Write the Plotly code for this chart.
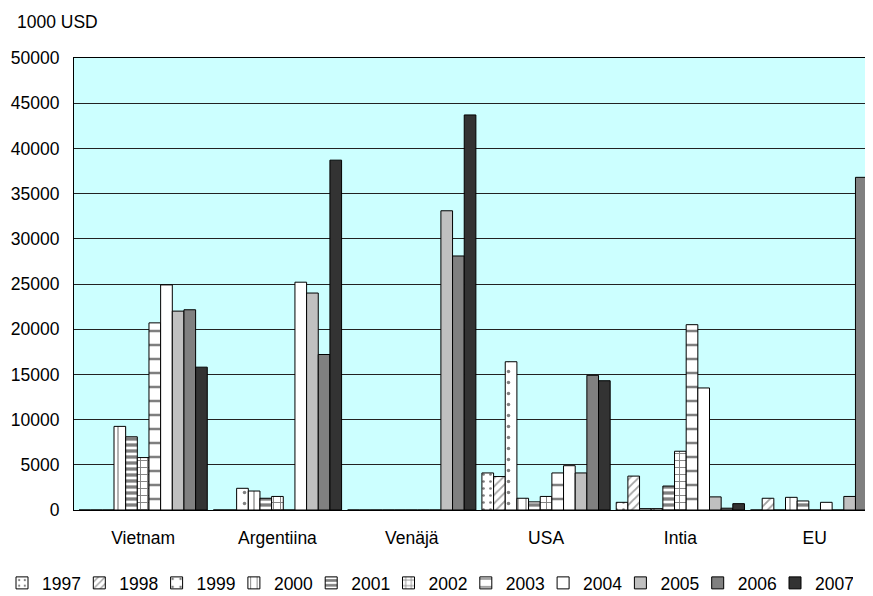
import plotly.graph_objects as go

categories = ["Vietnam", "Argentiina", "Venäjä", "USA", "Intia", "EU"]
years = ["1997", "1998", "1999", "2000", "2001", "2002", "2003", "2004", "2005", "2006", "2007"]

v1997 = [0, 0, 0, 4100, 850, 0]
v1998 = [0, 0, 0, 3700, 3750, 1300]
v1999 = [0, 2400, 0, 16400, 150, 0]
v2000 = [9250, 2100, 0, 1300, 150, 1400]
v2001 = [8100, 1300, 0, 900, 2650, 1000]
v2002 = [5800, 1500, 0, 1500, 6500, 0]
v2003 = [20700, 0, 0, 4100, 20500, 850]
v2004 = [24900, 25200, 0, 4900, 13500, 0]
v2005 = [22000, 24000, 33100, 4100, 1450, 1500]
v2006 = [22150, 17200, 28100, 14900, 200, 36800]
v2007 = [15800, 38700, 43700, 14300, 700, 0]

series = [v1997, v1998, v1999, v2000, v2001, v2002, v2003, v2004, v2005, v2006, v2007]

y_ticks = [0, 5000, 10000, 15000, 20000, 25000, 30000, 35000, 40000, 45000, 50000]

# styles per year (colour, pattern)
styles = [
    dict(color="white", pattern=dict(shape=".", size=7, solidity=0.12, fgcolor="black", bgcolor="white", fillmode="overlay")),
    dict(color="white", pattern=dict(shape="/", size=6, solidity=0.3, fgcolor="#444444", bgcolor="white", fillmode="overlay")),
    dict(color="white", pattern=dict(shape=".", size=11, solidity=0.08, fgcolor="black", bgcolor="white", fillmode="overlay")),
    dict(color="white", pattern=dict(shape="|", size=8, solidity=0.15, fgcolor="black", bgcolor="white", fillmode="overlay")),
    dict(color="white", pattern=dict(shape="-", size=6, solidity=0.55, fgcolor="black", bgcolor="white", fillmode="overlay")),
    dict(color="white", pattern=dict(shape="+", size=7, solidity=0.25, fgcolor="black", bgcolor="white", fillmode="overlay")),
    dict(color="white", pattern=dict(shape="-", size=14, solidity=0.18, fgcolor="black", bgcolor="white", fillmode="overlay")),
    dict(color="white"),
    dict(color="#C0C0C0"),
    dict(color="#808080"),
    dict(color="#333333"),
]

FONT = "Liberation Sans, Arial, sans-serif"

fig = go.Figure()
for yr, vals, st in zip(years, series, styles):
    marker = dict(color=st["color"], line=dict(color="black", width=1))
    if "pattern" in st:
        marker["pattern"] = st["pattern"]
    fig.add_trace(go.Bar(name=yr, x=categories, y=vals, marker=marker))

# page has an 8px body margin, so the figure is drawn 8px smaller
W, H = 865, 588
L, R, T, B = 66, 0, 50, 86
plot_w = W - L - R
plot_h = H - T - B
cat_w = 134.3
x_min = -0.5 - 2 / cat_w
x_max = x_min + plot_w / cat_w

fig.update_layout(
    width=W, height=H,
    margin=dict(l=L, r=R, t=T, b=B, pad=0, autoexpand=False),
    paper_bgcolor="white",
    plot_bgcolor="#CCFFFF",
    barmode="group",
    bargap=0.045,
    bargroupgap=0,
    font=dict(family=FONT, size=17.5, color="black"),
    showlegend=True,
    legend=dict(
        orientation="h",
        x=(-6 - L) / plot_w, xanchor="left",
        y=(H - B - 575) / plot_h, yanchor="middle",
        entrywidth=32.3, entrywidthmode="pixels",
        itemwidth=30,
        font=dict(family=FONT, size=17.5, color="black"),
        bgcolor="rgba(0,0,0,0)",
        traceorder="normal",
    ),
    xaxis=dict(
        range=[x_min, x_max], automargin=False,
        showline=True, mirror=True, linecolor="black", linewidth=1,
        showgrid=False, ticks="", ticklabelstandoff=12,
        tickfont=dict(family=FONT, size=17.5, color="black"),
    ),
    yaxis=dict(
        range=[0, 50000], automargin=False,
        tickvals=y_ticks,
        ticktext=[str(v) for v in y_ticks],
        showline=True, mirror=False, linecolor="black", linewidth=1,
        showgrid=True, gridcolor="#222222", gridwidth=1,
        zeroline=False, ticks="", ticklabelstandoff=10,
        tickfont=dict(family=FONT, size=17.5, color="black"),
    ),
    annotations=[dict(
        text="1000 USD", xref="paper", yref="paper",
        x=(7 - L) / plot_w, y=(H - B - 14) / plot_h,
        xanchor="left", yanchor="middle", showarrow=False,
        font=dict(family=FONT, size=17.5, color="black"),
    )],
)

fig.write_html("out.html")
